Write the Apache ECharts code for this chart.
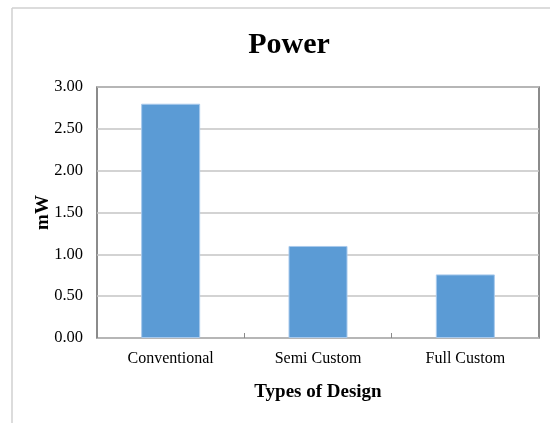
<!DOCTYPE html>
<html>
<head>
<meta charset="utf-8">
<script src="https://cdn.jsdelivr.net/npm/echarts@6/dist/echarts.min.js"></script>
<style>
  html, body { margin: 0; padding: 0; background: #ffffff; }
  #chart { width: 550px; height: 423px; }
</style>
</head>
<body>
<div id="chart"></div>
<script>
// Power consumption by design style
var categories = ['Conventional', 'Semi Custom', 'Full Custom'];
var powerValues = [2.8, 1.1, 0.76];
var yTicks = { min: 0, max: 3, interval: 0.5 };

var serif = 'Liberation Serif, Times New Roman, serif';
var chart = echarts.init(document.getElementById('chart'), null, { renderer: 'canvas' });

chart.setOption({
  backgroundColor: '#ffffff',
  animation: false,
  title: {
    text: 'Power',
    left: 284,
    top: 25,
    textAlign: 'center',
    textStyle: { fontFamily: serif, fontSize: 30, fontWeight: 'bold', color: '#000000' }
  },
  graphic: [
    // outer chart-area border (left and top edges)
    { type: 'line', shape: { x1: 12, y1: 8, x2: 12, y2: 423 }, style: { stroke: '#d0d0d0', lineWidth: 1.5 } },
    { type: 'line', shape: { x1: 12, y1: 8, x2: 550, y2: 8 }, style: { stroke: '#d0d0d0', lineWidth: 1.5 } }
  ],
  grid: {
    left: 97, right: 11, top: 87, bottom: 85,
    show: true,
    borderColor: '#666666',
    borderWidth: 1.5,
    backgroundColor: 'transparent'
  },
  xAxis: {
    type: 'category',
    data: categories,
    name: 'Types of Design',
    nameLocation: 'middle',
    nameGap: 45,
    nameTextStyle: { fontFamily: serif, fontSize: 19, fontWeight: 'bold', color: '#000000' },
    axisLine: { show: false },
    axisTick: { show: true, inside: true, length: 5, alignWithLabel: false, lineStyle: { color: '#8a8a8a', width: 1 } },
    axisLabel: { fontFamily: serif, fontSize: 16, color: '#000000', margin: 13 },
    splitLine: { show: false }
  },
  yAxis: {
    type: 'value',
    min: yTicks.min,
    max: yTicks.max,
    interval: yTicks.interval,
    name: 'mW',
    nameLocation: 'middle',
    nameGap: 44,
    nameMoveOverlap: false,
    nameRotate: 90,
    nameTextStyle: { fontFamily: serif, fontSize: 19, fontWeight: 'bold', color: '#000000' },
    axisLine: { show: false },
    axisTick: { show: false },
    axisLabel: {
      fontFamily: serif, fontSize: 16.5, color: '#000000', margin: 14,
      formatter: function (v) { return v.toFixed(2); }
    },
    splitLine: { show: true, lineStyle: { color: '#c4c4c4', width: 1.5 } }
  },
  series: [{
    type: 'bar',
    data: powerValues,
    barWidth: 59,
    itemStyle: { color: '#5b9bd5', borderColor: '#a8c9ec', borderWidth: 1 }
  }]
});
</script>
</body>
</html>
